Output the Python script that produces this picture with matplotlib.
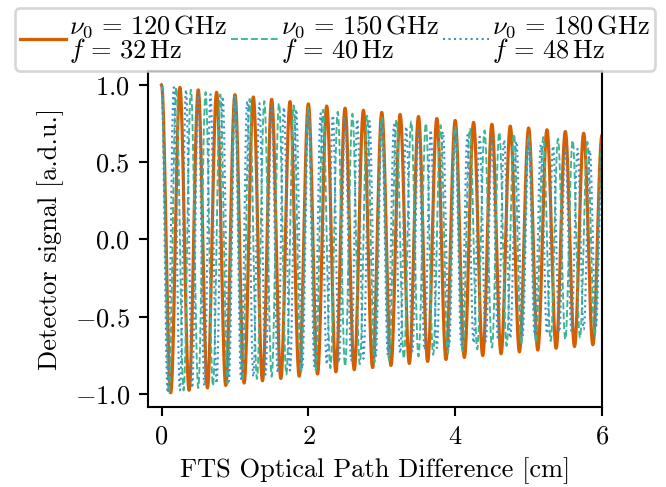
import numpy as np
import matplotlib
matplotlib.use("Agg")
import matplotlib.pyplot as plt

s = 1.9  # the reference looks like a 10 pt figure blown up
plt.rcParams["font.family"] = "serif"
plt.rcParams["font.serif"] = ["cmr10"]
plt.rcParams["mathtext.fontset"] = "cm"
plt.rcParams["axes.formatter.use_mathtext"] = True
plt.rcParams["font.size"] = 10 * s
plt.rcParams["axes.linewidth"] = 0.8 * s
plt.rcParams["xtick.major.size"] = 3.5 * s
plt.rcParams["ytick.major.size"] = 3.5 * s
plt.rcParams["xtick.major.width"] = 0.8 * s
plt.rcParams["ytick.major.width"] = 0.8 * s
plt.rcParams["xtick.major.pad"] = 3.5 * s
plt.rcParams["ytick.major.pad"] = 3.5 * s
plt.rcParams["axes.labelpad"] = 4.0 * s
plt.rcParams["legend.framealpha"] = 0.8

# band centres (GHz) and modulation frequencies (Hz) from the legend
nu0 = [120, 150, 180]
f_mod = [32, 40, 48]
# envelope decay length (cm)
decay = [15.3, 12.6, 10.6]

colors = ["#d55e00", "#3cb595", "#3a90cc"]
styles = ["-", "--", ":"]
widths = [2.3, 1.35, 1.5]

c_cm = 29.9792458  # speed of light in cm*GHz

opd = np.linspace(0, 6, 4000)  # cm

fig = plt.figure(figsize=(6.66, 4.87), dpi=100)
ax = fig.add_axes([0.2227, 0.1649, 0.6817, 0.6893])

for nu, f, L, col, ls, lw in zip(nu0, f_mod, decay, colors, styles, widths):
    sig = np.exp(-opd / L) * np.cos(2 * np.pi * nu * opd / c_cm)
    lab = (r"$\nu_0 \,=\, %d\,\mathrm{GHz}$" % nu + "\n"
           + r"$f \,=\, %d\,\mathrm{Hz}$" % f)
    ax.plot(opd, sig, color=col, ls=ls, lw=lw, label=lab)

ax.set_xlim(-0.18, 6)
ax.set_ylim(-1.082, 1.09)
ax.set_xticks([0, 2, 4, 6])
ax.set_yticks([-1.0, -0.5, 0.0, 0.5, 1.0])
ax.set_xlabel("FTS Optical Path Difference [cm]", labelpad=3.0 * s)
ax.set_ylabel("Detector signal [a.d.u.]")

leg = fig.legend(loc="upper center", bbox_to_anchor=(0.503, 0.99), ncol=3,
                 handlelength=1.75, handletextpad=0.12, columnspacing=0.15,
                 borderaxespad=0.1, borderpad=0.2, fontsize=10 * s)
leg.get_frame().set_linewidth(1.0 * s)
for t in leg.get_texts():
    t.set_linespacing(0.85)

fig.savefig("out.png", dpi=100)
